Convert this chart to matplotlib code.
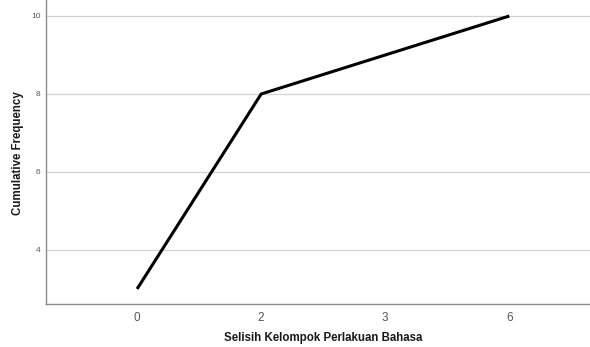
import numpy as np
import matplotlib.pyplot as plt

plt.rcParams['font.family'] = ['Liberation Sans', 'DejaVu Sans']

# data
kategori = ['0', '2', '3', '6']
frek_kumulatif = [3, 8, 9, 10]
y_ticks = [4, 6, 8, 10]

fig = plt.figure(figsize=(5.9, 3.47), dpi=100)
ax = fig.add_axes([0.078, 0.124, 0.922, 0.876])

x = np.arange(len(kategori))
ax.plot(x, frek_kumulatif, color='black', linewidth=2.2, solid_capstyle='butt')

ax.set_xlim(-0.734, 3.65)
ax.set_ylim(2.615, 10.41)
ax.set_xticks(x)
ax.set_xticklabels(kategori)
ax.set_yticks(y_ticks)

ax.grid(axis='y', color='#d2d2d2', linewidth=0.9)
ax.set_axisbelow(True)
ax.tick_params(length=0)
ax.tick_params(axis='x', labelsize=8.5, colors='#555555', pad=6)
ax.tick_params(axis='y', labelsize=6, colors='#555555', pad=4)

for s in ['top', 'right']:
    ax.spines[s].set_visible(False)
for s in ['left', 'bottom']:
    ax.spines[s].set_color('#8c8c8c')
    ax.spines[s].set_linewidth(1.0)

ax.set_xlabel('Selisih Kelompok Perlakuan Bahasa', fontsize=8.3, color='#1a1a1a', fontweight='bold')
ax.set_ylabel('Cumulative Frequency', fontsize=8.3, color='#1a1a1a', fontweight='bold')
# label positions in axes coords (pixel estimates from reference)
ax.xaxis.set_label_coords((323 - 46) / 544, -(338 - 304) / 304)
ax.yaxis.set_label_coords(-(46 - 18) / 544, (304 - 153) / 304)
ax.xaxis.label.set_va('center')
ax.yaxis.label.set_va('center')

fig.savefig('out.png', dpi=100)
